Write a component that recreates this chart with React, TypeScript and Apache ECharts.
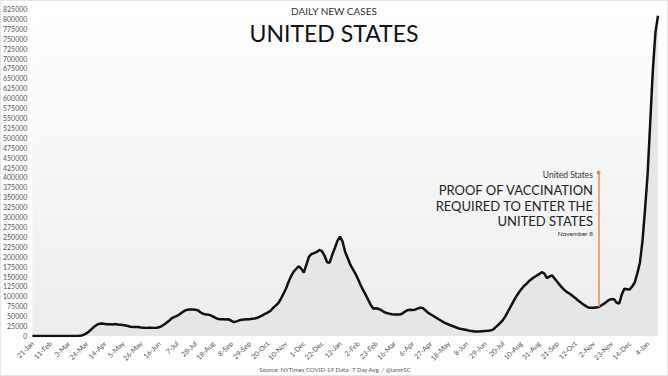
import React, { useEffect, useRef } from "react";
import * as echarts from "echarts";

// 7-day average of daily new cases, one value every 3 days from 21-Jan-2020 to 16-Jan-2022
const CASES: number[] = [
  0, 0, 0, 0, 0, 0, 0, 0, 0, 0, 0, 0, 0, 0, 0, 50, 110, 260,
  550, 1400, 3600, 7000, 12000, 18000, 24000, 28500, 31000, 31500, 30500, 29500,
  29800, 29000, 30000, 29000, 28500, 27500, 26500, 25000, 23500, 23000,
  22500, 22500, 21500, 21000, 20500, 21000, 20800, 20500, 21000, 22000,
  25000, 29000, 34000, 39000, 45000, 48000, 51000, 55000, 60000, 64000,
  66500, 67000, 67000, 66000, 65000, 60000, 56000, 54500, 54000, 52000,
  49000, 45000, 43000, 42500, 42500, 41500, 42000, 38000, 35000, 37000,
  39500, 41000, 41500, 42000, 42500, 43500, 44000, 46000, 49000, 52000,
  56000, 59000, 63000, 70000, 76000, 82000, 92000, 105000, 118000, 135000,
  150000, 162000, 169000, 176000, 170000, 160000, 180000, 200000, 207000, 209000,
  212000, 217000, 214000, 203000, 186000, 185000, 205000, 222000, 240000, 251000,
  238000, 212000, 196000, 180000, 168000, 157000, 143000, 128000, 115000, 103000,
  90000, 77000, 69000, 70000, 68000, 65000, 61000, 58000, 56500, 55000,
  54500, 54000, 54000, 56000, 61000, 65000, 66000, 65500, 66500, 69000,
  71500, 70500, 65000, 59000, 55000, 51000, 47000, 43000, 39000, 35000,
  32000, 29000, 26500, 24000, 21500, 19000, 17500, 16500, 15000, 13500,
  12500, 11500, 11500, 11500, 12000, 12500, 13000, 14000, 15500, 21000,
  27000, 33000, 40000, 50000, 62000, 74000, 86000, 98000, 108000, 117000,
  125000, 131000, 138000, 143000, 148000, 152000, 156000, 161000, 158000, 146000,
  150000, 153000, 145000, 137000, 129000, 121000, 115000, 110000, 106000, 101000,
  96000, 90000, 85000, 80000, 76000, 72000, 71000, 71000, 72000, 73000,
  77000, 81000, 86000, 91000, 93000, 93000, 84000, 82000, 105000, 119000,
  118000, 117000, 125000, 135000, 158000, 185000, 240000, 320000, 410000, 540000,
  670000, 765000, 808000,
];

const MONTHS = ["Jan", "Feb", "Mar", "Apr", "May", "Jun", "Jul", "Aug", "Sep", "Oct", "Nov", "Dec"];
const START_UTC = Date.UTC(2020, 0, 21);
const STEP_DAYS = 3;
const CATEGORIES: string[] = CASES.map((_, i) => {
  const d = new Date(START_UTC + i * STEP_DAYS * 86400000);
  return `${d.getUTCDate()}-${MONTHS[d.getUTCMonth()]}`;
});

const Y_MAX = 825000;
const Y_INTERVAL = 25000;
const EVENT_INDEX = 219; // 8-Nov-2021
const EVENT_TOP = 412000;
const EVENT_BASE = 73000;

const FONT = "Lato, 'Open Sans', sans-serif";

export default function App() {
  const ref = useRef<HTMLDivElement>(null);
  useEffect(() => {
    if (!ref.current) return;
    const chart = echarts.init(ref.current, undefined, { renderer: "svg" });
    chart.setOption({
      animation: false,
      backgroundColor: "#ffffff",
      textStyle: { fontFamily: FONT },
      grid: {
        left: 29,
        right: 10,
        top: 9,
        bottom: 40,
        show: true,
        borderWidth: 0,
        backgroundColor: {
          type: "linear", x: 0, y: 0, x2: 0, y2: 1,
          colorStops: [
            { offset: 0, color: "#ffffff" },
            { offset: 1, color: "#ededed" },
          ],
        },
      },
      xAxis: {
        type: "category",
        data: CATEGORIES,
        boundaryGap: false,
        axisLine: { show: false },
        axisTick: { show: false },
        splitLine: { show: false },
        axisLabel: {
          interval: 6,
          rotate: 45,
          fontSize: 7,
          color: "#555",
          margin: 6,
          fontFamily: FONT,
        },
      },
      yAxis: {
        type: "value",
        min: 0,
        max: Y_MAX,
        interval: Y_INTERVAL,
        axisLine: { show: false },
        axisTick: { show: false },
        splitLine: { show: false },
        axisLabel: {
          fontSize: 7,
          color: "#555",
          margin: 5,
          fontFamily: FONT,
          formatter: (v: number) => String(v),
        },
      },
      series: [
        {
          type: "line",
          data: CASES,
          showSymbol: false,
          symbol: "none",
          smooth: false,
          lineStyle: { color: "#111", width: 2.5 },
          areaStyle: { color: "#e6e6e6", opacity: 1 },
          markLine: {
            silent: true,
            symbol: ["none", "circle"],
            symbolSize: 4,
            label: { show: false },
            lineStyle: { color: "#f4883a", width: 1.5, type: "solid" },
            data: [
              [
                { coord: [EVENT_INDEX, EVENT_BASE] },
                { coord: [EVENT_INDEX, EVENT_TOP] },
              ],
            ],
          },
        },
      ],
      graphic: [
        {
          type: "rect",
          shape: { x: 0.5, y: 0.5, width: 667, height: 375 },
          style: { fill: "none", stroke: "#e6e6e6", lineWidth: 1 },
          silent: true,
        },
        {
          type: "text",
          x: 334, y: 11,
          style: { text: "DAILY NEW CASES", fontSize: 10, fill: "#333", align: "center", verticalAlign: "middle", fontFamily: FONT },
        },
        {
          type: "text",
          x: 334, y: 33,
          style: { text: "UNITED STATES", fontSize: 23, fill: "#111", align: "center", verticalAlign: "middle", fontFamily: FONT },
        },
        {
          type: "text",
          x: 593, y: 175,
          style: { text: "United States", fontSize: 8.5, fill: "#333", align: "right", verticalAlign: "middle", fontFamily: FONT },
        },
        {
          type: "text",
          x: 593, y: 189.5,
          style: { text: "PROOF OF VACCINATION", fontSize: 13, fill: "#222", align: "right", verticalAlign: "middle", fontFamily: FONT },
        },
        {
          type: "text",
          x: 593, y: 205.5,
          style: { text: "REQUIRED TO ENTER THE", fontSize: 13, fill: "#222", align: "right", verticalAlign: "middle", fontFamily: FONT },
        },
        {
          type: "text",
          x: 593, y: 221,
          style: { text: "UNITED STATES", fontSize: 13, fill: "#222", align: "right", verticalAlign: "middle", fontFamily: FONT },
        },
        {
          type: "text",
          x: 593, y: 233.5,
          style: { text: "November 8", fontSize: 6.5, fill: "#333", align: "right", verticalAlign: "middle", fontFamily: FONT },
        },
        {
          type: "text",
          x: 335, y: 369.5,
          style: { text: "Source: NYTimes COVID-19 Data- 7 Day Avg. / @ianmSC", fontSize: 6, fill: "#555", align: "center", verticalAlign: "middle", fontFamily: FONT },
        },
      ],
    });
    return () => chart.dispose();
  }, []);
  return (
    <div
      ref={ref}
      style={{ position: "fixed", left: 0, top: 0, width: 668, height: 376, background: "#fff" }}
    />
  );
}
